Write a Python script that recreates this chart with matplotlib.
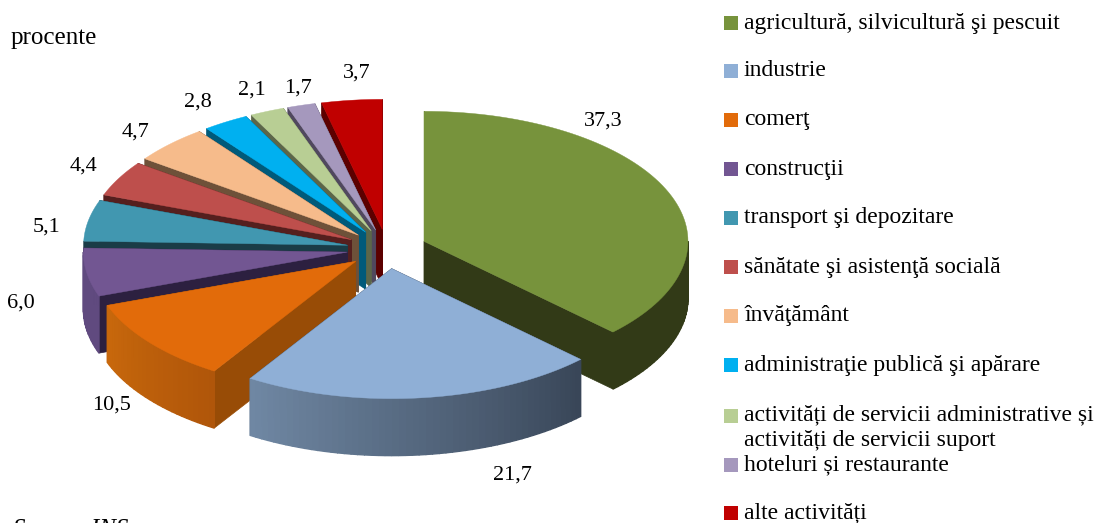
import numpy as np
from matplotlib import pyplot as plt
from matplotlib.patches import Rectangle

# pie values, in the order of the legend
labels = ["agricultură, silvicultură şi pescuit", "industrie", "comerţ", "construcţii",
          "transport şi depozitare", "sănătate şi asistenţă socială", "învăţământ",
          "administraţie publică şi apărare",
          "activități de servicii administrative și\nactivități de servicii suport",
          "hoteluri și restaurante", "alte activități"]
values = [37.3, 21.7, 10.5, 6.0, 5.1, 4.4, 4.7, 2.8, 2.1, 1.7, 3.7]

top_colors = ["#77933C", "#8FAFD6", "#E26B0A", "#725692", "#4197B0", "#BE4F4C",
              "#F6BB8B", "#00B0F0", "#B8CE94", "#A598BD", "#C00000"]
cut_colors = ["#323A17", "#3A4659", "#984C06", "#2C2040", "#1A3C47", "#551F1E",
              "#6E5139", "#005A7A", "#5C6649", "#50485E", "#5C0000"]
rim_start = ["#323A17", "#394658", "#B0560A", "#604A7F", "#2A5F70", "#7A3230",
             "#9C7759", "#006F98", "#75835E", "#695F78", "#7A0000"]
rim_end = ["#323A17", "#6F87A3", "#C8680C", "#604A7F", "#2A5F70", "#7A3230",
           "#9C7759", "#006F98", "#75835E", "#695F78", "#7A0000"]

# layout in pixels
cx, cy = 387, 249
rx, ry = 264, 130
explode = 0.152
depth = 57
draw_order = [10, 9, 8, 7, 6, 5, 4, 3, 2, 0, 1]

value_label_pos = [(603, 121), (512, 475), (112, 405), (21, 303), (47, 227), (84, 166),
                   (136, 132), (198, 102), (252, 90), (298, 88), (357, 73)]
legend_y = [23, 71, 120, 169, 218, 267, 316, 365, 416, 465, 513]

plt.rcParams["font.family"] = ["Liberation Serif", "DejaVu Serif"]

fig = plt.figure(figsize=(11.03, 5.23), dpi=100)
ax = fig.add_axes([0, 0, 1, 1])
ax.set_xlim(0, 1103)
ax.set_ylim(523, 0)
ax.axis("off")


def hex2rgb(c):
    return np.array([int(c[i:i + 2], 16) / 255 for i in (1, 3, 5)])


def rim_xy(ox, oy, ang):
    # ang is degrees clockwise from the top of the pie
    a = np.radians(ang)
    return ox + rx * np.sin(a), oy - ry * np.cos(a)


# slice angles out of the values
ends = np.cumsum(values) / np.sum(values) * 360
starts = np.concatenate([[0], ends[:-1]])

for i in draw_order:
    t1, t2 = starts[i], ends[i]
    mid = np.radians((t1 + t2) / 2)
    ox = cx + explode * rx * np.sin(mid)
    oy = cy - explode * ry * np.cos(mid)

    # the two cut faces
    for t in (t2, t1):
        x, y = rim_xy(ox, oy, t)
        ax.fill([ox, x, x, ox], [oy, y, y + depth, oy + depth],
                color=cut_colors[i], lw=0.5, zorder=2)

    # outer wall, only the part turned towards the viewer
    lo, hi = max(t1, 90), min(t2, 270)
    if hi > lo:
        steps = np.linspace(lo, hi, int((hi - lo) / 1.5) + 2)
        c1, c2 = hex2rgb(rim_start[i]), hex2rgb(rim_end[i])
        for k in range(len(steps) - 1):
            x1, y1 = rim_xy(ox, oy, steps[k])
            x2, y2 = rim_xy(ox, oy, steps[k + 1])
            f = k / max(len(steps) - 2, 1)
            ax.fill([x1, x2, x2, x1], [y1, y2, y2 + depth, y1 + depth],
                    color=c1 + (c2 - c1) * f, lw=1.0, zorder=2)

    # top face
    th = np.linspace(t1, t2, 80)
    x, y = rim_xy(ox, oy, th)
    ax.fill(np.r_[ox, x], np.r_[oy, y], color=top_colors[i], lw=0.3, zorder=2)

for v, (x, y) in zip(values, value_label_pos):
    ax.text(x, y, f"{v:.1f}".replace(".", ","), fontsize=16, ha="center", va="center", zorder=5)

ax.text(11, 38, "procente", fontsize=18, va="center")
# cut by the bottom edge in the reference too
ax.text(13, 530, "Sursa:  INS", fontsize=18, style="italic", va="center")

# legend
for lab, col, y in zip(labels, top_colors, legend_y):
    ax.add_patch(Rectangle((724, y - 7), 14, 14, color=col, lw=0))
    if "\n" in lab:
        ax.text(744, y - 12, lab, fontsize=17, va="top", linespacing=1.3)
    else:
        ax.text(744, y, lab, fontsize=17, va="center")

fig.savefig("out.png", dpi=100)
